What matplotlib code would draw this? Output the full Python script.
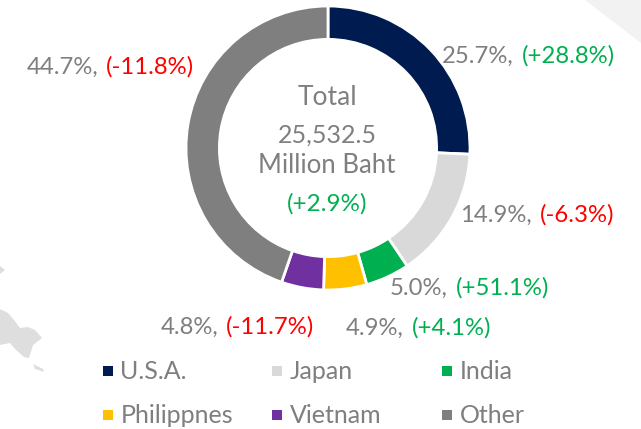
import matplotlib.pyplot as plt
from matplotlib.patches import Polygon

W, H = 641, 429

countries = ['U.S.A.', 'Japan', 'India', 'Philippnes', 'Vietnam', 'Other']
shares = [25.7, 14.9, 5.0, 4.9, 4.8, 44.7]
changes = [28.8, -6.3, 51.1, 4.1, -11.7, -11.8]
colors = ['#001b4f', '#d9d9d9', '#00b050', '#ffc000', '#7030a0', '#7f7f7f']

GREY = '#7f7f7f'
GREEN = '#00b050'
RED = '#ff0000'

plt.rcParams['font.family'] = ['Lato', 'DejaVu Sans']

fig = plt.figure(figsize=(W / 100, H / 100), dpi=100)

# full page axes in pixels, for the labels and background bits
bg = fig.add_axes([0, 0, 1, 1])
bg.set_xlim(0, W)
bg.set_ylim(H, 0)
bg.axis('off')

# faded background shapes from the slide
bg.add_patch(Polygon([(585, 0), (641, 0), (641, 43)], color='#f2f2f2', lw=0))
bg.add_patch(Polygon([(0, 266), (5, 270), (0, 274)], color='#dedede', lw=0))
bg.add_patch(Polygon([(0, 309), (8, 313), (14, 320), (20, 328), (28, 327), (35, 330), (42, 338),
                      (33, 345), (29, 358), (24, 357), (15, 349), (10, 343), (0, 345)],
                     color='#dedede', lw=0))
bg.add_patch(Polygon([(33, 364), (43, 369), (44, 372), (35, 369)], color='#dedede', lw=0))

# donut
ax = fig.add_axes([186 / W, 1 - 290 / H, 284 / W, 284 / H])
ax.pie(shares, colors=colors, startangle=90, counterclock=False, radius=1,
       wedgeprops={'width': 0.235, 'edgecolor': 'white', 'linewidth': 2})
ax.set_xlim(-1, 1)
ax.set_ylim(-1, 1)

# text in the middle
for txt, y, size in [('Total', 105, 19), ('25,532.5', 143, 18), ('Million Baht', 173, 18.5)]:
    bg.text(327, y, txt, color=GREY, fontsize=size, ha='center', va='baseline')
bg.text(327, 211, '(+2.9%)', color=GREEN, fontsize=17.5, ha='center', va='baseline')

# share label: x where the colored part starts, y of the baseline
label_pos = [(522, 63), (540, 222), (456, 295), (412, 335), (226, 334), (106, 74)]
for share, change, (x, y) in zip(shares, changes, label_pos):
    bg.text(x - 8, y, f'{share:.1f}%,', color=GREY, fontsize=17.2, ha='right', va='baseline')
    bg.text(x, y, f'({change:+.1f}%)', color=GREEN if change > 0 else RED,
            fontsize=17.2, ha='left', va='baseline')

# legend
legend_x = [107.5, 277, 447]
legend_y = [371, 415]
legend_base = [379, 423]
for i, name in enumerate(countries):
    x = legend_x[i % 3]
    bg.plot(x, legend_y[i // 3], marker='s', ms=7.5, color=colors[i], mew=0)
    bg.text(x + 13, legend_base[i // 3], name, color=GREY, fontsize=18, ha='left', va='baseline')

fig.savefig('out.png', dpi=100)
